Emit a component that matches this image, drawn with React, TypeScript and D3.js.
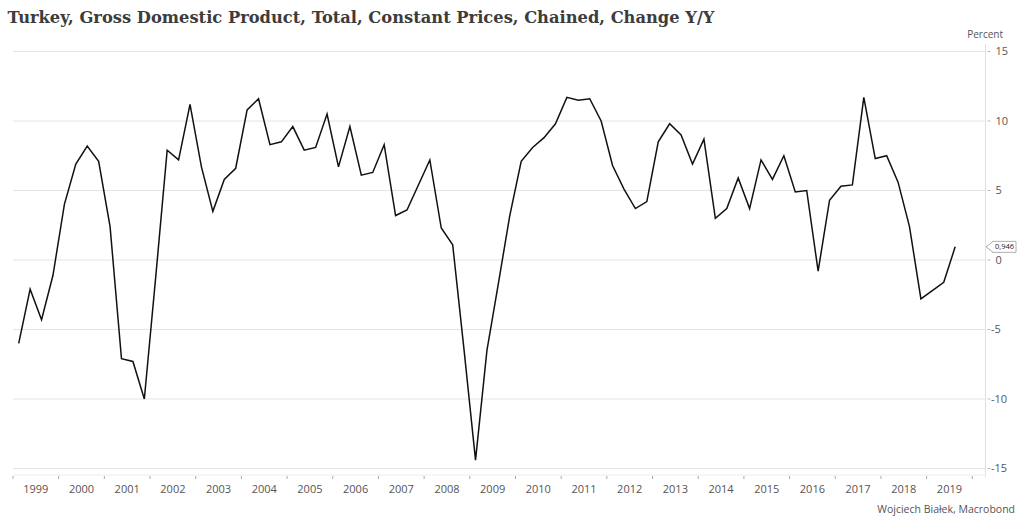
import React from "react";
import * as d3 from "d3";

const title = "Turkey, Gross Domestic Product, Total, Constant Prices, Chained, Change Y/Y";
const unitLabel = "Percent";
const source = "Wojciech Białek, Macrobond";
const startYear = 1999;
const yearLabels = ["1999","2000","2001","2002","2003","2004","2005","2006","2007","2008","2009","2010","2011","2012","2013","2014","2015","2016","2017","2018","2019"];
const yTicks = [15, 10, 5, 0, -5, -10, -15];
// quarterly Y/Y growth, Q1 1999 .. Q3 2019
const growth = [
  -6.0, -2.1, -4.3, -1.1,
  4.0, 6.9, 8.2, 7.1,
  2.4, -7.1, -7.3, -10.0,
  -1.2, 7.9, 7.2, 11.2,
  6.7, 3.5, 5.8, 6.6,
  10.8, 11.6, 8.3, 8.5,
  9.6, 7.9, 8.1, 10.5,
  6.7, 9.6, 6.1, 6.3,
  8.3, 3.2, 3.6, 5.4,
  7.2, 2.3, 1.1, -6.5,
  -14.4, -6.5, -1.7, 3.2,
  7.1, 8.1, 8.8, 9.8,
  11.7, 11.5, 11.6, 10.0,
  6.8, 5.1, 3.7, 4.2,
  8.5, 9.8, 9.0, 6.9,
  8.7, 3.0, 3.7, 5.9,
  3.7, 7.2, 5.8, 7.5,
  4.9, 5.0, -0.8, 4.3,
  5.3, 5.4, 11.7, 7.3,
  7.5, 5.6, 2.4, -2.8,
  -2.2, -1.6, 0.946,
];
const lastLabel = "0,946";

export default function App() {
  const W = 1024, H = 524;
  const left = 13, right = 985.5, top = 51.5, bottom = 468.5;
  const x = d3.scaleLinear().domain([startYear, startYear + yearLabels.length]).range([left, 972.3]);
  const y = d3.scaleLinear().domain([-15, 15]).range([bottom, top]);
  const pts = growth.map((v, i) => [x(startYear + (i + 0.5) / 4), y(v)] as [number, number]);
  const line = d3.line()(pts) || "";
  const last = pts[pts.length - 1];
  const font = "'Open Sans', 'Noto Sans', sans-serif";
  const yearTicks = d3.range(startYear, startYear + yearLabels.length + 1);
  const axisY = 475;
  return (
    <svg width={W} height={H} style={{ position: "absolute", left: 0, top: 0, background: "#fff" }}>
      <text x={7.5} y={23} fontFamily="'DejaVu Serif', serif" fontWeight="bold" fontSize={16} fill="#3c3c3c"
        textLength={707} lengthAdjust="spacingAndGlyphs">{title}</text>
      {yTicks.map((t) => (
        <g key={t}>
          <line x1={left} x2={right} y1={y(t)} y2={y(t)} stroke="#e4e4e4" strokeWidth={1} />
          <line x1={right + 2} x2={right + 5} y1={y(t)} y2={y(t)} stroke="#bbb" strokeWidth={1} />
          <text x={t < 0 ? 991 : 995.5} y={y(t)} dy="0.35em" fontFamily={font} fontSize={11} fill="#555">{t}</text>
        </g>
      ))}
      <line x1={right} x2={right} y1={44} y2={axisY + 2} stroke="#e0e0e0" strokeWidth={1} />
      <line x1={left} x2={right} y1={axisY} y2={axisY} stroke="#ececec" strokeWidth={1} />
      {yearTicks.map((yr) => (
        <line key={yr} x1={x(yr)} x2={x(yr)} y1={axisY + 1} y2={axisY + 4} stroke="#aaa" strokeWidth={1} />
      ))}
      {yearLabels.map((lab, i) => (
        <text key={lab} x={x(startYear + i + 0.5)} y={493} textAnchor="middle" fontFamily={font} fontSize={11} fill="#555">{lab}</text>
      ))}
      <text x={1003} y={38} textAnchor="end" fontFamily={font} fontSize={10} fill="#555">{unitLabel}</text>
      <path d={line} fill="none" stroke="#111" strokeWidth={1.5} strokeLinejoin="miter" />
      <path d={`M${right + 0.5},${last[1]} L${right + 7},${last[1] - 5} L${right + 7},${last[1] - 5.5} L1016,${last[1] - 5.5} L1016,${last[1] + 5.5} L${right + 7},${last[1] + 5.5} L${right + 7},${last[1] + 5} Z`}
        fill="#fff" stroke="#999" strokeWidth={0.8} />
      <text x={1004.5} y={last[1]} dy="0.35em" textAnchor="middle" fontFamily={font} fontSize={7.5} fill="#222">{lastLabel}</text>
      <text x={1015} y={513} textAnchor="end" fontFamily={font} fontSize={10.5} fill="#555">{source}</text>
    </svg>
  );
}
